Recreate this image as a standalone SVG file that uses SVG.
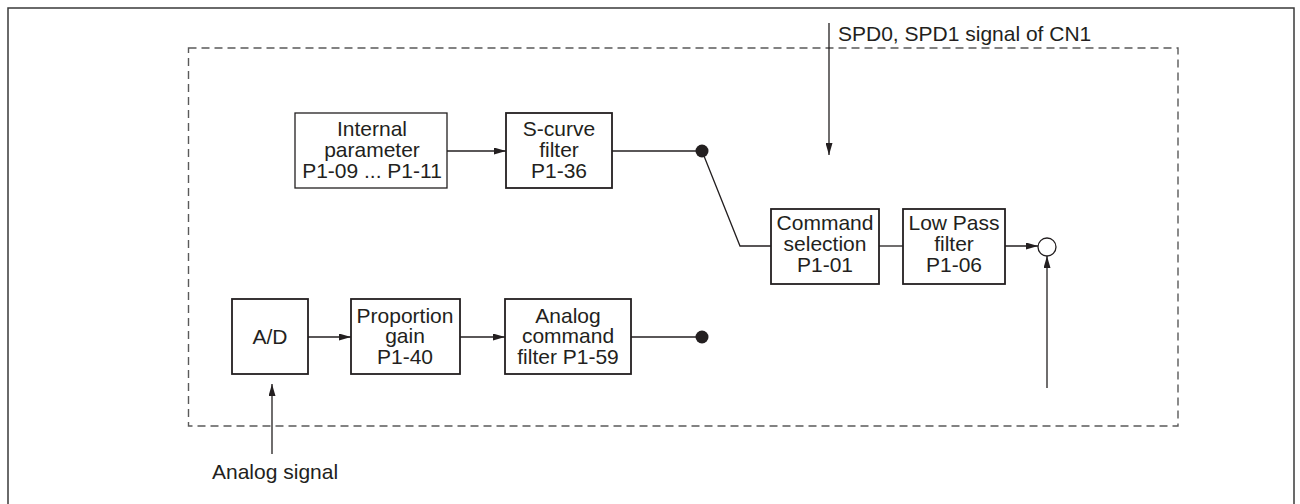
<svg xmlns="http://www.w3.org/2000/svg" width="1300" height="504" viewBox="0 0 1300 504">
<style>
.frame{fill:none;stroke:#3a3a3a;stroke-width:1.5}
.dash{fill:none;stroke:#5a5a5a;stroke-width:1.4;stroke-dasharray:8 5}
.box{fill:#fff;stroke:#231f20;stroke-width:1.8}
.thin{stroke-width:1.3}
.line{fill:none;stroke:#231f20;stroke-width:1.3}
.t{font-family:"Liberation Sans",Arial,sans-serif;font-size:21px;fill:#231f20;text-anchor:middle}
.l{text-anchor:start}
.dot{fill:#231f20}
.sum{fill:#fff;stroke:#231f20;stroke-width:1.3}
</style>
<defs>
<marker id="ah" viewBox="0 0 12 7" refX="12" refY="3.5" markerWidth="12" markerHeight="7" markerUnits="userSpaceOnUse" orient="auto">
<path d="M0,0 L12,3.5 L0,7 Z" fill="#231f20"/>
</marker>
</defs>
<rect x="0" y="0" width="1300" height="504" fill="#fff"/>
<rect class="frame" x="8" y="8" width="1286" height="520"/>
<rect class="dash" x="188.5" y="48" width="989.5" height="378"/>

<g id="connectors">
<line class="line" x1="829" y1="23" x2="829" y2="155" marker-end="url(#ah)"/>
<line class="line" x1="447" y1="151" x2="506" y2="151" marker-end="url(#ah)"/>
<line class="line" x1="612" y1="151" x2="702" y2="151"/>
<polyline class="line" points="702,151 740,246 771,246"/>
<line class="line" x1="879" y1="246" x2="903" y2="246"/>
<line class="line" x1="1005" y1="246" x2="1038" y2="246" marker-end="url(#ah)"/>
<line class="line" x1="1047" y1="388" x2="1047" y2="256" marker-end="url(#ah)"/>
<line class="line" x1="308" y1="337" x2="351" y2="337" marker-end="url(#ah)"/>
<line class="line" x1="460" y1="337" x2="505" y2="337" marker-end="url(#ah)"/>
<line class="line" x1="631" y1="337" x2="702" y2="337"/>
<line class="line" x1="272" y1="454" x2="272" y2="384" marker-end="url(#ah)"/>
<circle class="dot" cx="702" cy="151" r="6.5"/>
<circle class="dot" cx="702" cy="337" r="6.5"/>
</g>

<g id="spd-label">
<text class="t l" x="838" y="41">SPD0, SPD1 signal of CN1</text>
</g>

<g id="internal">
<rect class="box thin" x="295" y="113" width="152" height="75"/>
<text class="t" x="372" y="136">Internal</text>
<text class="t" x="372" y="157">parameter</text>
<text class="t" x="372" y="178">P1-09 ... P1-11</text>
</g>

<g id="scurve">
<rect class="box" x="506" y="113" width="106" height="75"/>
<text class="t" x="559" y="136">S-curve</text>
<text class="t" x="559" y="157">filter</text>
<text class="t" x="559" y="178">P1-36</text>
</g>

<g id="cmdsel">
<rect class="box" x="771" y="209" width="108" height="75"/>
<text class="t" x="825" y="230">Command</text>
<text class="t" x="825" y="251">selection</text>
<text class="t" x="825" y="272">P1-01</text>
</g>

<g id="lowpass">
<rect class="box" x="903" y="209" width="102" height="75"/>
<text class="t" x="954" y="230">Low Pass</text>
<text class="t" x="954" y="251">filter</text>
<text class="t" x="954" y="272">P1-06</text>
</g>

<g id="sum">
<circle class="sum" cx="1047" cy="247" r="9"/>
</g>

<g id="ad">
<rect class="box" x="232" y="299" width="76" height="75"/>
<text class="t" x="270" y="344">A/D</text>
</g>

<g id="gain">
<rect class="box" x="351" y="299" width="109" height="75"/>
<text class="t" x="405" y="323">Proportion</text>
<text class="t" x="405" y="343">gain</text>
<text class="t" x="405" y="364">P1-40</text>
</g>

<g id="analogfilter">
<rect class="box" x="505" y="299" width="126" height="75"/>
<text class="t" x="568" y="323">Analog</text>
<text class="t" x="568" y="343">command</text>
<text class="t" x="568" y="364">filter P1-59</text>
</g>

<g id="analog-label">
<text class="t l" x="212" y="479">Analog signal</text>
</g>
</svg>
